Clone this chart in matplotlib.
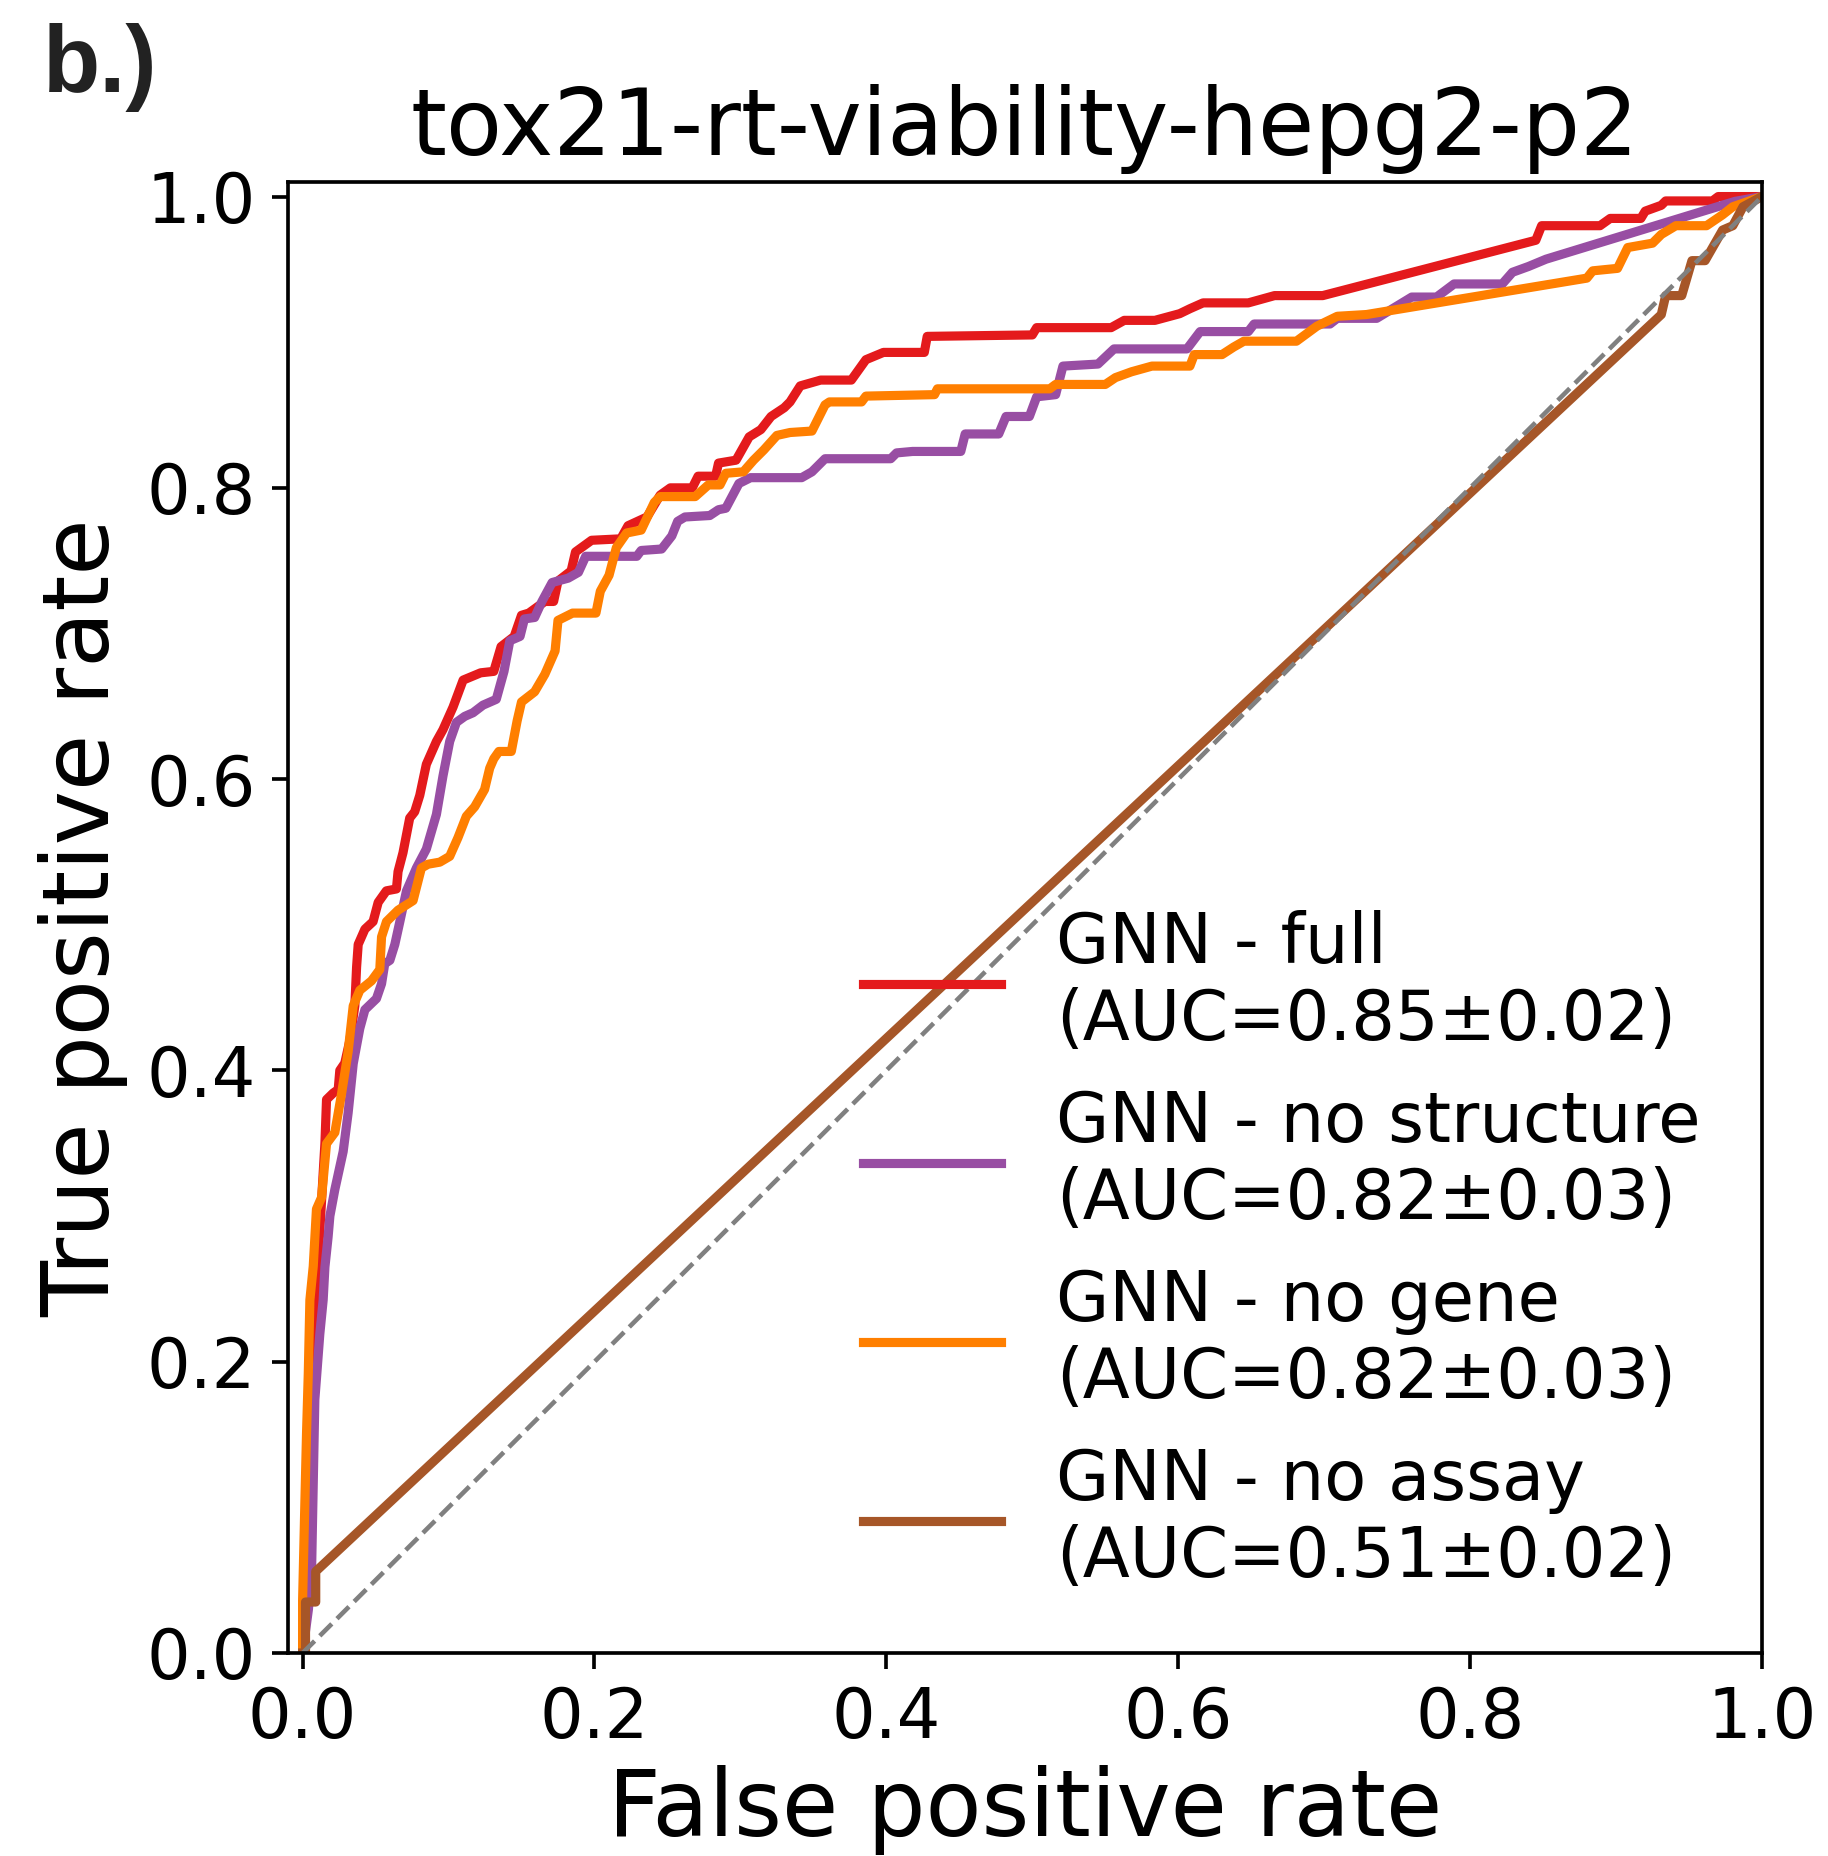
import matplotlib
matplotlib.use("Agg")
import matplotlib.pyplot as plt

title = "tox21-rt-viability-hepg2-p2"
labels = ["GNN - full\n(AUC=0.85\u00b10.02)",
          "GNN - no structure\n(AUC=0.82\u00b10.03)",
          "GNN - no gene\n(AUC=0.82\u00b10.03)",
          "GNN - no assay\n(AUC=0.51\u00b10.02)"]
colors = ["#e41a1c", "#984ea3", "#ff7f00", "#a65628"]

red_fpr = [0, 0.003, 0.006, 0.009, 0.0118, 0.0153, 0.0164, 0.0209, 0.0244, 0.0255, 0.0289, 0.0324, 0.0358, 0.037,
           0.0381, 0.0427, 0.0483, 0.0518, 0.0574, 0.0643, 0.0654, 0.0688, 0.0734, 0.0768, 0.0803, 0.0848, 0.0917,
           0.0962, 0.1031, 0.110, 0.122, 0.131, 0.136, 0.145, 0.150, 0.155, 0.166, 0.172, 0.175, 0.184, 0.187, 0.198,
           0.218, 0.223, 0.236, 0.245, 0.252, 0.267, 0.271, 0.283, 0.285, 0.297, 0.306, 0.314, 0.321, 0.330, 0.334,
           0.341, 0.355, 0.376, 0.386, 0.398, 0.426, 0.428, 0.500, 0.503, 0.554, 0.563, 0.584, 0.601, 0.608, 0.617,
           0.648, 0.666, 0.699, 0.845, 0.849, 0.889, 0.896, 0.917, 0.920, 0.931, 0.934, 0.966, 0.970, 1.0]
red_tpr = [0, 0.10, 0.20, 0.25, 0.29, 0.35, 0.38, 0.3844, 0.3869, 0.40, 0.405, 0.4207, 0.4444, 0.471,
           0.4865, 0.497, 0.5022, 0.5154, 0.5233, 0.5246, 0.5365, 0.5495, 0.5733, 0.5776, 0.5889, 0.6102, 0.6259,
           0.634, 0.6495, 0.668, 0.673, 0.674, 0.691, 0.698, 0.7125, 0.714, 0.722, 0.722, 0.736, 0.743, 0.756, 0.764,
           0.765, 0.774, 0.780, 0.795, 0.800, 0.800, 0.808, 0.808, 0.817, 0.819, 0.835, 0.840, 0.849, 0.855, 0.859,
           0.870, 0.874, 0.874, 0.888, 0.893, 0.893, 0.904, 0.905, 0.910, 0.910, 0.915, 0.915, 0.9196, 0.923, 0.927,
           0.927, 0.932, 0.932, 0.970, 0.980, 0.980, 0.985, 0.985, 0.990, 0.994, 0.997, 0.997, 1.0, 1.0]

purple_fpr = [0, 0.004, 0.0062, 0.0084, 0.0118, 0.0141, 0.0153, 0.0175, 0.0187, 0.0221, 0.0278, 0.0312, 0.0347,
              0.0392, 0.0427, 0.0506, 0.0541, 0.0563, 0.0598, 0.0632, 0.0666, 0.0712, 0.0780, 0.0848, 0.0917, 0.0962,
              0.1008, 0.1054, 0.1111, 0.1168, 0.1236, 0.1327, 0.138, 0.142, 0.149, 0.152, 0.159, 0.164, 0.171, 0.182,
              0.189, 0.194, 0.229, 0.232, 0.246, 0.253, 0.257, 0.262, 0.279, 0.285, 0.290, 0.299, 0.307, 0.342, 0.349,
              0.354, 0.358, 0.403, 0.407, 0.418, 0.451, 0.454, 0.477, 0.482, 0.498, 0.503, 0.516, 0.521, 0.545, 0.556,
              0.606, 0.615, 0.648, 0.652, 0.704, 0.709, 0.736, 0.760, 0.777, 0.789, 0.822, 0.829, 0.840, 0.852,
              0.9815, 1.0]
purple_tpr = [0, 0.03, 0.059, 0.174, 0.219, 0.2424, 0.265, 0.2859, 0.30, 0.3182, 0.3443, 0.3708, 0.4047,
              0.4288, 0.4417, 0.4493, 0.4595, 0.4733, 0.4756, 0.4865, 0.502, 0.5233, 0.539, 0.552, 0.5758, 0.6022,
              0.6259, 0.639, 0.6431, 0.6456, 0.6508, 0.6548, 0.674, 0.695, 0.698, 0.710, 0.711, 0.722, 0.735, 0.738,
              0.742, 0.753, 0.753, 0.757, 0.758, 0.767, 0.777, 0.780, 0.781, 0.785, 0.786, 0.803, 0.807, 0.807, 0.811,
              0.816, 0.820, 0.820, 0.824, 0.825, 0.825, 0.837, 0.837, 0.849, 0.849, 0.8625, 0.864, 0.8836, 0.885,
              0.8954, 0.8954, 0.9073, 0.9073, 0.9125, 0.9125, 0.9164, 0.9164, 0.931, 0.931, 0.940, 0.940, 0.948,
              0.952, 0.957, 0.9967, 1.0]

orange_fpr = [0, 0.0, 0.0016, 0.0027, 0.0039, 0.005, 0.0073, 0.0095, 0.013, 0.0164, 0.0221, 0.0267, 0.0312,
              0.0347, 0.0392, 0.0472, 0.0529, 0.0541, 0.0575, 0.0654, 0.0757, 0.0814, 0.086, 0.094, 0.1008, 0.1065,
              0.1122, 0.1179, 0.1247, 0.1282, 0.131, 0.1345, 0.143, 0.147, 0.150, 0.159, 0.166, 0.173, 0.175, 0.185,
              0.201, 0.204, 0.210, 0.215, 0.222, 0.232, 0.241, 0.245, 0.269, 0.278, 0.286, 0.290, 0.302, 0.309,
              0.316, 0.325, 0.334, 0.349, 0.358, 0.361, 0.383, 0.386, 0.433, 0.435, 0.512, 0.516, 0.550, 0.557,
              0.568, 0.582, 0.608, 0.611, 0.630, 0.638, 0.645, 0.681, 0.695, 0.709, 0.729, 0.880, 0.884, 0.901,
              0.908, 0.925, 0.931, 0.941, 0.962, 0.973, 0.980, 1.0]
orange_tpr = [0, 0.036, 0.105, 0.151, 0.192, 0.2424, 0.2655, 0.3048, 0.3128, 0.3497, 0.3574, 0.384, 0.4128,
              0.4444, 0.455, 0.4615, 0.4693, 0.4917, 0.5022, 0.51, 0.5166, 0.539, 0.5416, 0.543, 0.547, 0.5599,
              0.5745, 0.581, 0.5929, 0.6075, 0.614, 0.619, 0.619, 0.640, 0.653, 0.660, 0.672, 0.688, 0.709, 0.714,
              0.714, 0.729, 0.740, 0.759, 0.769, 0.771, 0.790, 0.794, 0.794, 0.802, 0.802, 0.810, 0.811, 0.819,
              0.826, 0.836, 0.838, 0.839, 0.857, 0.859, 0.859, 0.863, 0.864, 0.868, 0.868, 0.871, 0.871, 0.8757,
              0.8797, 0.8836, 0.8836, 0.8915, 0.8915, 0.8967, 0.9007, 0.9007, 0.911, 0.9178, 0.919, 0.944, 0.949,
              0.9507, 0.965, 0.968, 0.974, 0.980, 0.980, 0.9875, 0.993, 1.0]

brown_fpr = [0, 0.002, 0.002, 0.009, 0.009, 0.931, 0.934, 0.945, 0.952, 0.961, 0.973, 0.980, 0.987, 1.0]
brown_tpr = [0, 0.0, 0.035, 0.035, 0.056, 0.919, 0.932, 0.932, 0.956, 0.956, 0.977, 0.980, 0.993, 1.0]

series = [(red_fpr, red_tpr), (purple_fpr, purple_tpr), (orange_fpr, orange_tpr), (brown_fpr, brown_tpr)]

plt.rcParams["axes.linewidth"] = 0.88
plt.rcParams["xtick.major.width"] = 0.88
plt.rcParams["ytick.major.width"] = 0.88
plt.rcParams["xtick.major.size"] = 3.85
plt.rcParams["ytick.major.size"] = 3.85
plt.rcParams["xtick.major.pad"] = 3.85
plt.rcParams["ytick.major.pad"] = 3.85

W, H = 1828, 1856
fig = plt.figure(figsize=(W / 300, H / 300), dpi=300)
ax = fig.add_axes([288 / W, (H - 1653) / H, 1474 / W, 1471 / H])

for (fx, ty), c, lab in zip(series, colors, labels):
    ax.plot(fx, ty, color=c, lw=2.2, label=lab)
ax.plot([0, 1], [0, 1], color="gray", lw=1.1, ls="--")

ax.set_xlim(-0.01, 1.0)
ax.set_ylim(0.0, 1.01)
ax.set_xticks([0.0, 0.2, 0.4, 0.6, 0.8, 1.0])
ax.set_yticks([0.0, 0.2, 0.4, 0.6, 0.8, 1.0])
ax.tick_params(labelsize=16.5)
ax.set_xlabel("False positive rate", fontsize=22, labelpad=3.0)
ax.set_ylabel("True positive rate", fontsize=22, labelpad=4.4)
ax.set_title(title, fontsize=22, pad=6.6)
ax.legend(loc="lower right", frameon=False, fontsize=16.5)

fig.text(43 / W, 1 - 92 / H, "b.)", fontsize=22.5, fontweight="bold", family="Liberation Sans",
         color="#222222", va="baseline", ha="left")

fig.savefig("out.png", dpi=300)
